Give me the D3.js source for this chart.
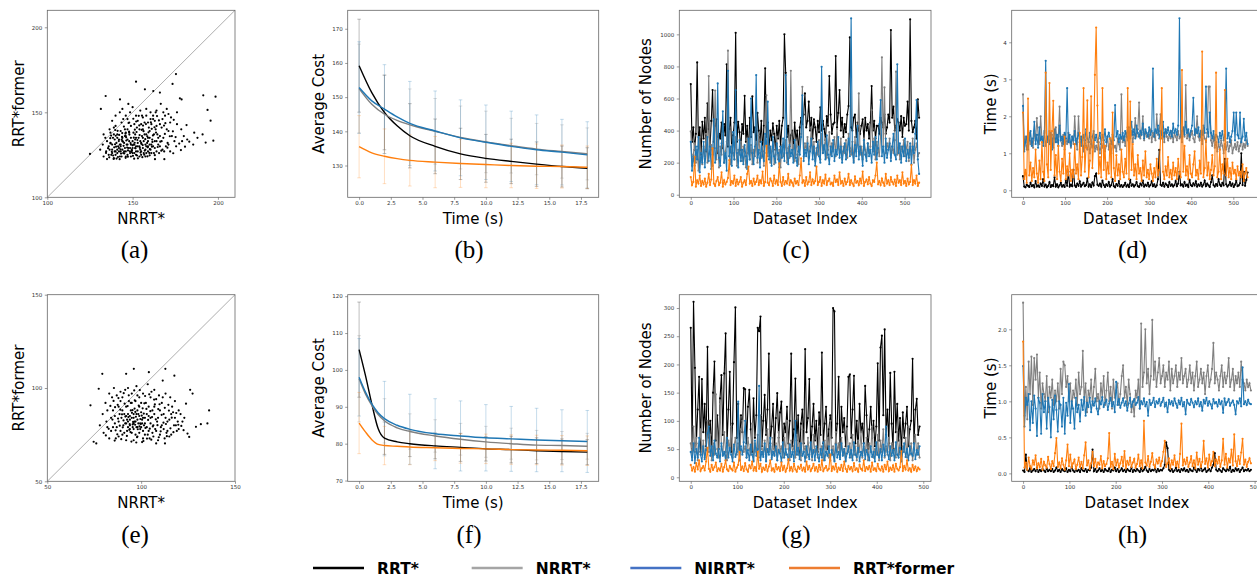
<!DOCTYPE html>
<meta charset="utf-8">
<style>
    body {
        margin: 0;
        background: #fff;
    }

    svg {
        display: block;
    }

    text {
        font-family: "DejaVu Sans", sans-serif;
    }

    .frame {
        fill: none;
        stroke: #666;
        stroke-width: 0.8;
    }

    .tick line {
        stroke: #555;
        stroke-width: 0.6;
    }

    .tick text {
        fill: #333;
    }

    .cap {
        font-family: "Liberation Serif", serif;
        font-size: 25px;
    }
</style>

<body>
    <svg width="1257" height="577"></svg>
    <script src="https://d3js.org/d3.v7.min.js"></script>
    <script>
        // series names and colours
        var seriesNames = ["RRT*", "NRRT*", "NIRRT*", "RRT*former"];
        var plotColors = ["#000000", "#808080", "#1f77b4", "#ff7f0e"];
        var legendColors = ["#000000", "#a5a5a5", "#4472c4", "#ed7d31"];

        // (a) NRRT* vs RRT*former path cost, top dataset
        var scatterTop = [[125,125.5],[134.2,159.6],[131.4,152],[152,168],[157.2,163.5],[175.4,172.5],[173.4,166.7],[191.4,160],[198.6,159.2],[193.9,151.4],[195.7,145.1],[197.3,133.3],[192.8,132.2],[191,137],[186.1,138],[183.2,132.7],[180.7,129.8],[178.3,127.8],[181.6,142.5],[178.7,157.6],[177.7,158.2],[166,161.6],[162.1,162.5],[142.6,157.6],[147.5,154.9],[168.6,122.4],[163.1,122.4],[173.8,125.9],
            [133,124],[134.5,127],[135,122.5],[136,130],[137.5,125],[138,128],[139,123],[140.5,132],[141,126],[142,129],[143.5,124],[144,135],[145,127],[146.5,131],[147,125],[148,138],[149.5,128],[150,133],[151,126],[152.5,141],[153,130],[154,124],[155.5,136],[156,129],[157,144],[158.5,132],[159,127],[160,139],[161.5,134],[162,146],[163,129],[164.5,137],[165,131],[166,143],[167.5,128],[168,135],[169,148],[170.5,132],[171,139],[172,144],
            [135,133],[136.5,128],[137,138],[138,126],[139.5,134],[140,127],[141,137],[142.5,124],[143,131],[144,128],[145.5,140],[146,124],[147,134],[148.5,129],[149,142],[150,126],[151.5,137],[152,130],[153,145],[154.5,133],[155,127],[156,140],[157.5,131],[158,148],[159,135],[160.5,128],[161,143],[162,130],[163.5,150],[164,127],
            [138,131],[139,137],[140,125],[141.5,130],[142,134],[143,139],[144.5,126],[145,132],[146,136],[147.5,129],[148,133],[149,124],[150.5,138],[151,131],[152,127],[153.5,135],[154,140],[155,125],[156.5,133],[157,137],[158,126],[159.5,141],[160,131],[161,126],[162.5,137],[163,133],[164,142],[165.5,126],[166,136],[167,141],
            [141,128],[142.5,131],[143,127],[144,133],[145.5,129],[146,138],[147,131],[148.5,126],[149,135],[150,129],[151.5,134],[152,125],[153,132],[154.5,128],[155,143],[156,135],[157.5,124],[158,137],[159,130],[160.5,146],
            [136,125],[138.5,135],[140,142],[142,127],[144.5,146],[146,127],[148,144],[150.5,131],[152,135],[154,130],[156.5,126],[158,130],[160,135],[162.5,126],[164,133],[166,130],[168.5,127],[170,140],[172,127],[174.5,133],
            [137,132],[139.5,127],[141,135],[143,130],[145.5,136],[147,140],[149,131],[151.5,129],[153,127],[155,132],[157.5,128],[159,133],[161,131],[163.5,140],[165,135],[167,133],[169.5,130],[171,131],[173,136],[175.5,130],
            [134,135],[136.5,140],[138,145],[140,148],[142.5,150],[144,152],[146,148],[148.5,150],[150,153],[152,148],[154.5,151],[156,147],[158,152],[160.5,150],[162,148],[164,151],[166.5,155],[168,150],[170,152],[172.5,147],
            [131,128],[132.5,131],[133,137],[139,141],[143.5,144],[147,146],[151,143],[155.5,148],[159,144],[163,145],[167.5,146],[171,149],[176,143],[178.5,140],[180,136],[182,134],[185.5,131],[188,135],[176,150],[179,133],
            [136.3,123.5],[137.8,126.8],[139.2,129.4],[140.6,122.8],[141.9,133.1],[143.2,125.7],[144.7,130.3],[145.9,123.2],[147.3,127.6],[148.8,131.9],[150.2,124.4],[151.7,128.8],[153.1,122.9],[154.6,126.3],[155.9,130.7],[157.4,134.2],[158.7,124.1],[160.1,128.3],[161.6,132.6],[163,124.8],
            [135.6,128.9],[137.1,131.7],[138.6,124.6],[140.1,136.2],[141.4,123.7],[142.9,128.2],[144.3,132.8],[145.8,137.4],[147.2,123.9],[148.4,127.1],[149.9,130.6],[151.3,139.8],[152.8,133.7],[154.2,129.1],[155.7,123.6],[157.1,127.5],[158.6,135.9],[160,124.7],[161.3,129.8],[162.8,141.2],
            [134.4,126.1],[136.9,134.8],[139.7,131.2],[141.2,139.1],[143.8,135.6],[146.3,133.4],[148.1,136.9],[150.7,135.1],[152.3,138.4],[153.9,142.3],[156.4,138.9],[159.3,138.2],[161.9,136.4],[164.7,129.6],[166.2,132.7],[168.9,137.3],[170.4,129.2],[173.6,138.8],[175.2,135.4],[177.3,131.6],
            [138.9,122.6],[142.4,122.4],[145.1,125.8],[146.8,129.3],[149.3,126.7],[150.9,122.7],[152.6,124.6],[155.2,131.4],[156.8,125.1],[159.8,126.1],[142.1,136.7],[144.9,141.6],[147.6,143.7],[150.4,146.2],[153.6,147.9],[157.8,143.1],[161.2,140.3],[165.4,145.2],[169.2,143.6],[171.8,135.9],
            [140.3,129.8],[143.6,133.9],[146.2,135.3],[149.6,127.4],[151.2,132.1],[154.1,136.6],[156.1,142.2],[158.9,129.4],[163.7,138.1],[166.8,127.4],[137.4,136.3],[139.8,139.6],[143.9,137.8],[147.9,138.6],[152.1,144.6],[155.3,139.7],[160.7,144.1],[164.3,147.8],[168.4,142.2],[174.1,145.6]];

        // (e) NRRT* vs RRT*former path cost, bottom dataset
        var scatterBottom = [[73,90.7],[77.4,99.6],[79.3,107.6],[96.1,110.3],[92,107.6],[104.1,108.5],[112.9,110.3],[117.7,106.6],[111.5,104],[126.1,99],[127.4,97],[136.2,88],[135.3,81],[131.8,80.6],[129.2,79.2],[125.6,73.8],[124.7,75.6],[74.7,71.2],[76.1,70.3],[112.7,70.3],[108,70.3],[122.6,77.4],[123.9,91.6],
            [80,76],[81.5,82],[82,88],[83,73],[84.5,95],[85,79],[86,85],[87.5,91],[88,74],[89,98],[90.5,80],[91,86],[92,72],[93.5,93],[94,78],[95,84],[96.5,89],[97,75],[98,96],[99.5,81],[100,87],[101,73],[102.5,92],[103,79],[104,85],[105.5,98],[106,76],[107,90],[108.5,82],[109,72],[110,88],[111.5,95],[112,78],[113,84],[114.5,91],[115,74],[116,86],[117.5,80],[118,93],[119,77],
            [82,79],[84,84],[86.5,73],[88,90],[90,95],[92.5,77],[94,83],[96,72],[98.5,86],[100,79],[102,84],[104.5,73],[106,88],[108,94],[110.5,79],[112,86],[114,82],[116.5,90],[118,84],[120,88],
            [85,88],[87,79],[89.5,84],[91,76],[93,82],[95.5,79],[97,82],[99,76],[101.5,80],[103,86],[105,81],[107.5,78],[109,84],[111,80],[113.5,76],[115,83],[117,87],[119.5,82],[121,86],[123,84],
            [88,82],[89,77],[90,88],[91.5,81],[92,85],[93,79],[94.5,88],[95,76],[96,81],[97.5,86],[98,79],[99,90],[100.5,83],[101,77],[102,81],[103.5,75],[104,90],[105,84],[106.5,80],[107,86],
            [78,80],[79.5,86],[81,92],[83,97],[85.5,100],[87,96],[89,93],[91.5,99],[93,100],[95,97],[97.5,101],[99,95],[101,97],[103.5,102],[105,95],[107,99],[109.5,96],[111,92],[113,97],[115.5,95],
            [84,77],[86,81],[88.5,86],[90,75],[92,81],[94.5,92],[96,84],[98,74],[100.5,71],[102,75],[104,77],[106.5,74],[108,77],[110,75],[112.5,73],[114,77],[116,75],[118.5,80],[120,78],[122,82],
            [92,90],[93,86],[94,80],[95,92],[96,78],[97,93],[98,83],[99,85],[100,92],[101,84],[95.5,80.5],[96.5,82],[97.5,79],[98.5,81],[99.5,78],[100.5,81],[96,86],[98,88],[94,85],[92.5,83],
            [86.4,77.3],[87.7,83.6],[88.9,88.4],[90.2,78.9],[91.6,84.7],[92.8,90.3],[94.3,76.4],[95.7,81.8],[96.9,87.2],[98.2,77.9],[99.6,83.4],[100.8,89.1],[102.3,78.6],[103.7,82.9],[104.9,87.6],[106.2,79.4],[107.8,83.2],[109.1,88.7],[110.4,76.8],[111.9,81.4],
            [84.7,83.1],[86.1,89.7],[87.3,75.2],[88.6,79.8],[89.8,85.9],[91.2,91.6],[92.4,74.3],[93.9,80.6],[95.1,86.7],[96.6,93.4],[97.8,73.6],[99.1,79.4],[100.3,85.2],[101.7,91.8],[103.1,72.9],[104.6,78.2],[105.8,84.4],[107.3,91.2],[108.7,80.1],[110.9,85.6],
            [83.6,90.4],[85.3,93.1],[87.9,94.6],[90.7,97.2],[93.4,96.1],[96.3,98.7],[99.3,98.9],[102.1,95.7],[104.3,96.6],[106.9,93.8],[109.8,91.3],[112.6,89.4],[114.8,87.9],[116.3,84.1],[118.7,86.6],[113.2,80.7],[115.6,78.4],[117.2,76.3],[119.8,80.3],[121.4,79.7],
            [81.2,74.6],[82.7,78.1],[85.9,71.8],[89.4,72.6],[94.8,71.3],[97.4,70.8],[101.2,71.6],[105.4,72.3],[109.4,73.6],[113.7,74.2],[90.6,82.6],[93.2,84.4],[95.4,88.1],[97.2,84.6],[98.7,90.6],[101.4,86.3],[102.8,88.8],[93.7,77.6],[96.8,80.3],[99.8,80.7]];

        // (b) average cost over time, top dataset
        var timeTop = [0, 1, 2, 3, 4, 6, 8, 10, 12, 14, 16, 18];
        var costTopRrt = [159.2, 151.3, 145.5, 141.6, 138.7, 135.6, 133.4, 132.1, 131.2, 130.4, 129.7, 129.2];
        var costTopNrrt = [152.5, 147.9, 145.0, 143.2, 141.9, 140.0, 138.2, 136.9, 135.8, 134.8, 134.1, 133.4];
        var costTopNirrt = [152.8, 148.9, 146.5, 144.2, 142.3, 140.1, 138.1, 136.8, 135.6, 134.6, 133.9, 133.1];
        var costTopFormer = [135.5, 133.7, 132.7, 132.0, 131.5, 131.0, 130.6, 130.3, 130.0, 129.8, 129.7, 129.5];

        // error bar times and standard deviations
        var errTimes = [0, 2, 4, 6, 8, 10, 12, 14, 16, 18];
        var stdTopRrt = [13.6, 10.9, 9.4, 8.0, 7.5, 7.0, 6.5, 6.5, 6.0, 6.0];
        var stdTopNrrt = [13.0, 11.5, 10.5, 9.6, 9.2, 9.0, 8.0, 7.5, 7.8, 7.6];
        var stdTopNirrt = [13.4, 13.0, 12.3, 11.7, 11.1, 10.9, 10.3, 10.2, 9.6, 9.7];
        var stdTopFormer = [9.1, 8.0, 7.5, 7.5, 7.0, 6.8, 6.5, 6.5, 6.3, 6.2];

        // (f) average cost over time, bottom dataset
        var timeBottom = [0, 0.5, 1, 1.5, 2, 3, 4, 6, 8, 10, 12, 14, 16, 18];
        var costBotRrt = [105.5, 98.5, 90.8, 84.1, 81.5, 80.5, 80.0, 79.4, 79.0, 78.6, 78.4, 78.1, 77.9, 77.7];
        var costBotNrrt = [97.6, 93.5, 90.4, 87.9, 86.2, 84.3, 83.3, 82.1, 81.2, 80.5, 80.0, 79.6, 79.5, 79.3];
        var costBotNirrt = [98.0, 94.0, 90.8, 88.4, 86.8, 85.0, 83.9, 82.7, 82.1, 81.6, 81.3, 81.0, 80.8, 80.6];
        var costBotFormer = [85.6, 83.2, 81.1, 79.8, 79.5, 79.3, 79.1, 78.9, 78.7, 78.6, 78.4, 78.3, 78.2, 78.1];
        var stdBotRrt = [12.9, 4.4, 3.5, 3.5, 3.8, 3.3, 3.6, 3.5, 3.4, 3.4];
        var stdBotNrrt = [11.7, 6.0, 4.8, 4.4, 4.3, 4.2, 4.2, 4.0, 3.8, 3.5];
        var stdBotNirrt = [10.5, 10.1, 9.5, 9.5, 9.5, 9.0, 8.8, 8.6, 8.4, 8.4];
        var stdBotFormer = [8.3, 5.2, 4.8, 3.5, 4.0, 4.0, 4.0, 4.0, 4.0, 4.0];

        // (c) number of nodes per dataset index, top dataset (every 3rd index)
        var nodesTopRrt = [690,330,420,280,380,825,300,420,250,455,350,480,270,570,410,300,460,653,330,430,
            470,260,380,350,450,290,440,370,813,300,410,480,260,370,450,1010,330,455,390,280,
            440,380,617,330,430,260,480,360,613,390,420,310,510,400,330,460,270,430,788,360,
            450,290,400,340,445,380,280,430,350,460,300,430,480,1000,760,360,430,300,370,400,
            290,450,340,400,270,420,480,440,500,632,420,460,580,400,480,350,470,420,330,460,
            390,545,400,460,410,340,490,430,740,500,380,440,450,865,420,510,653,400,480,360,
            440,390,500,553,981,420,400,480,500,360,450,400,380,430,470,340,480,400,440,350,
            450,678,400,460,350,430,430,380,480,450,420,500,380,420,500,450,1027,480,549,400,
            430,470,450,400,490,360,480,430,440,580,400,1094,460,390,420,460,350,595,480];
        var nodesTopNrrt = [395,180,250,320,200,280,150,360,230,190,300,240,380,200,740,260,310,180,290,650,
            220,350,170,300,250,380,200,270,330,898,240,190,310,260,220,360,180,280,250,330,
            210,300,240,170,350,260,220,310,190,280,240,330,200,370,260,230,300,180,420,620,
            240,300,200,270,330,190,250,360,220,280,170,310,240,260,340,200,290,230,773,260,
            310,210,340,250,190,300,380,673,240,320,280,360,230,300,420,260,330,210,290,250,
            340,220,380,260,300,350,230,280,390,250,320,270,360,240,410,300,260,350,220,300,
            260,340,230,380,290,250,330,210,360,270,310,632,250,300,220,350,280,240,320,260,
            300,528,270,350,220,330,280,240,370,857,300,669,260,320,280,350,230,300,260,340,
            767,250,310,220,300,270,340,240,290,330,210,300,250,350,200,280,320,240,260];
        var nodesTopNirrt = [330,150,240,180,300,220,360,140,260,200,330,170,280,360,210,300,160,250,470,200,
            290,694,230,180,320,520,200,260,150,773,240,300,180,390,220,653,260,170,340,210,
            280,190,310,240,160,350,220,600,260,190,300,746,230,280,170,330,240,210,380,260,
            580,220,300,180,360,240,200,320,260,170,300,230,350,210,746,260,190,310,240,280,
            200,340,230,180,300,250,360,620,210,280,240,320,190,270,350,220,300,180,260,330,
            240,200,798,260,310,220,370,250,190,300,240,340,210,280,250,360,230,300,200,270,
            320,220,280,350,240,1100,260,200,310,240,430,220,300,260,180,340,250,210,320,240,
            280,200,330,250,360,220,290,440,590,240,300,200,350,230,280,320,210,300,380,250,
            220,813,260,320,200,300,240,350,210,280,230,320,190,300,260,380,590,220,130];
        var nodesTopFormer = [110,60,80,237,50,90,70,120,55,85,65,100,50,75,130,60,95,289,70,55,
            85,110,60,75,140,50,90,65,80,105,216,60,85,70,120,55,95,65,80,110,
            50,75,90,60,130,175,70,85,55,100,65,80,120,60,90,70,145,55,80,305,
            75,60,100,85,55,120,70,90,60,195,80,55,110,65,85,70,130,60,90,75,
            55,100,70,85,60,120,227,75,90,55,110,65,80,140,60,95,70,85,175,60,
            80,110,55,90,70,125,60,85,100,65,75,55,120,80,95,60,140,70,85,55,
            100,65,80,130,60,90,70,55,115,75,85,60,100,70,145,55,80,95,65,110,
            70,55,90,80,120,200,65,85,60,100,75,55,130,70,90,60,110,80,65,95,
            55,120,75,90,60,140,70,85,55,100,65,80,185,60,90,70,120,55,75];

        // (d) planning time per dataset index, top dataset (every 3rd index)
        var timeTopRrt = [0.38,0.10,0.08,0.15,0.12,0.09,0.20,0.11,0.14,0.08,0.25,0.10,0.13,0.09,0.18,0.12,0.30,0.10,0.15,0.08,
            0.12,0.22,0.09,0.14,0.11,0.35,0.10,0.16,0.08,0.13,0.20,0.10,0.14,0.09,0.28,0.12,0.50,0.10,0.15,0.11,
            0.55,0.13,0.09,0.18,0.12,0.24,0.10,0.15,0.20,0.11,0.14,0.32,0.10,0.16,0.09,0.21,0.13,0.38,0.45,0.15,
            0.12,0.18,0.10,0.26,0.14,0.09,0.16,0.12,0.22,0.10,0.14,0.30,0.11,0.08,0.17,0.12,0.25,0.10,0.14,0.09,
            0.13,0.20,0.10,0.15,0.09,0.28,0.12,0.16,0.10,0.14,0.22,0.11,0.09,0.18,0.13,0.26,0.10,0.15,0.12,0.20,
            0.10,0.14,0.24,0.11,0.16,0.09,0.13,0.30,1.09,0.15,0.12,0.20,0.10,0.18,0.14,0.09,0.22,0.12,0.16,0.10,
            0.14,0.25,0.11,0.18,0.50,0.13,0.16,0.10,0.22,0.12,0.15,0.09,0.28,0.14,0.11,0.19,0.13,0.24,0.10,0.16,
            0.12,0.20,0.10,0.15,0.26,0.11,0.18,0.13,0.09,0.22,0.40,0.14,0.10,0.17,0.12,0.30,0.15,0.11,0.20,0.13,
            0.85,0.16,0.10,0.14,0.22,0.12,0.18,0.09,0.15,0.26,0.11,0.13,0.19,1.00,0.14,0.50,0.12,0.28,0.48];
        var timeTopNrrt = [2.59,1.20,1.45,1.10,1.30,1.55,1.25,1.40,1.15,1.60,1.35,1.95,1.50,1.25,2.00,1.40,1.30,1.55,1.20,1.45,
            1.35,1.60,1.25,1.50,1.15,1.40,1.70,1.30,1.45,2.26,1.35,1.20,1.50,1.10,1.40,1.25,1.55,1.30,1.15,1.45,
            1.25,2.00,1.35,1.10,2.00,1.30,1.20,1.45,1.05,1.35,1.20,1.10,1.30,1.00,1.25,1.15,1.40,1.05,1.20,1.10,
            1.30,1.00,1.25,1.15,1.35,1.05,1.20,1.45,1.10,1.25,1.00,1.35,1.15,1.20,1.05,1.40,1.25,1.10,2.59,1.30,
            1.45,1.20,1.55,1.35,1.70,1.40,1.60,1.30,1.50,1.95,1.45,1.65,2.37,1.40,1.55,2.00,1.35,1.60,1.45,1.50,
            1.40,1.65,1.30,1.55,1.45,1.35,2.05,1.50,1.60,2.05,1.40,1.55,1.30,1.65,1.45,1.35,1.50,1.40,1.60,1.30,
            1.55,1.45,1.35,1.60,1.40,1.50,1.30,1.65,1.45,2.84,1.40,1.55,1.35,1.50,1.60,1.40,1.30,1.55,2.00,1.45,
            1.35,1.50,1.25,1.60,1.40,1.30,1.55,2.80,2.80,1.35,1.20,1.45,1.15,1.30,1.05,1.25,1.10,1.35,1.20,1.00,
            1.25,1.10,1.30,1.05,1.20,1.35,1.00,1.15,1.25,1.10,1.30,1.05,1.20,1.40,1.10,1.25,1.15,1.35,1.20];
        var timeTopNirrt = [2.28,1.05,1.30,1.45,1.10,1.35,1.60,1.20,1.40,1.85,1.25,1.50,1.15,1.70,1.35,1.45,1.20,1.60,3.50,1.30,
            1.45,1.25,1.55,1.10,1.40,1.65,1.30,1.50,1.20,1.75,1.35,1.45,1.25,1.55,1.40,2.76,1.30,1.50,1.20,1.45,
            1.35,1.60,1.25,1.40,1.55,1.30,1.45,1.20,1.50,1.35,1.65,1.40,1.30,1.55,1.25,1.45,1.60,1.35,1.50,1.30,
            1.40,1.55,1.25,1.50,1.35,1.65,1.30,1.45,1.55,1.40,1.25,1.50,1.35,2.30,1.45,1.60,1.30,1.50,1.40,1.55,
            1.35,1.60,1.45,1.70,1.40,1.55,1.85,1.50,1.65,1.40,1.75,1.55,1.45,1.60,1.50,1.80,1.40,1.65,1.55,1.45,
            1.70,1.50,1.60,3.29,1.45,1.65,1.55,1.75,1.40,1.60,1.50,1.85,1.45,1.65,1.55,1.70,1.50,1.60,1.45,1.80,
            1.55,1.65,1.50,1.75,4.65,1.45,1.60,1.70,1.50,1.85,1.55,1.65,1.45,1.60,1.75,2.50,1.50,1.65,1.55,1.70,
            1.45,1.60,1.50,1.75,1.55,2.80,1.65,1.45,2.10,1.55,1.40,1.60,1.35,1.50,1.45,1.30,1.55,1.40,1.60,1.35,
            1.50,3.29,1.40,1.55,1.30,1.45,1.60,2.10,1.35,2.10,1.50,1.40,2.10,1.30,1.45,1.93,1.35,1.55,1.25];
        var timeTopFormer = [2.10,0.30,0.55,0.20,2.48,0.40,0.75,0.25,0.60,0.35,1.10,0.45,0.20,0.80,0.30,1.30,0.50,0.25,3.18,0.70,
            0.35,2.90,0.55,1.60,2.42,0.40,0.95,0.30,1.20,0.50,0.25,0.85,0.45,1.45,0.30,0.65,0.40,1.00,0.25,0.55,
            0.35,1.25,0.45,0.70,0.30,1.55,0.40,0.90,2.76,0.50,1.15,2.43,0.35,0.80,2.54,0.60,1.30,3.12,4.40,2.29,
            0.45,0.90,0.35,2.76,0.55,1.20,0.30,0.75,0.45,1.40,0.35,2.10,0.60,0.25,0.95,0.40,0.70,0.30,1.10,0.50,
            0.35,0.85,0.45,2.76,0.30,2.40,0.55,1.25,0.40,0.70,0.30,0.95,0.45,0.60,0.25,0.80,0.40,1.05,0.35,0.55,
            0.30,0.70,0.45,0.25,0.60,0.35,0.85,0.40,0.55,1.40,2.76,0.50,0.30,0.65,0.40,0.90,0.35,0.55,0.30,0.75,
            0.40,0.60,0.30,0.85,0.45,0.35,3.25,0.50,1.20,0.40,0.65,0.30,0.95,0.45,0.35,0.70,1.05,0.40,0.55,0.30,
            0.80,0.45,3.75,0.35,0.60,1.35,0.40,0.75,0.30,0.55,0.95,0.40,0.65,3.18,0.35,0.50,1.10,0.30,0.70,0.45,
            2.71,0.40,0.85,0.35,0.60,0.30,0.75,0.45,0.55,0.30,0.65,0.40,0.50,0.35,0.70,0.25,0.45,0.60,0.35];

        // (g) number of nodes per dataset index, bottom dataset (every 3rd index)
        var nodesBotRrt = [265,50,311,194,60,120,178,45,174,80,130,55,231,70,100,40,150,205,65,110,
            50,140,181,75,184,255,60,120,187,45,95,204,301,70,130,50,110,80,158,156,
            60,125,155,85,45,140,70,110,265,259,285,55,100,146,75,120,219,60,90,130,
            50,105,149,70,115,134,45,95,80,125,60,100,219,55,85,175,65,110,40,95,
            120,60,227,80,105,174,50,90,130,65,100,45,115,75,221,60,95,125,50,85,
            110,70,300,294,60,95,178,45,125,80,105,55,90,178,182,70,120,180,60,100,
            45,130,80,95,60,162,110,50,85,125,70,100,55,90,202,65,230,251,110,262,
            75,120,60,185,95,50,187,80,130,65,105,45,115,70,95,125,55,85,100,210,
            60,120,139,75,90];
        var nodesBotNrrt = [60,35,90,45,70,30,55,85,40,65,35,50,100,45,75,30,60,40,147,50,
            35,130,55,40,80,45,30,65,50,90,35,55,70,40,60,30,85,100,45,55,
            35,70,50,40,95,30,60,45,75,35,110,50,40,65,30,85,45,55,35,70,
            40,60,30,80,45,55,35,70,40,100,50,30,65,45,55,35,75,40,60,30,
            85,45,55,35,70,40,60,30,75,45,50,35,90,40,55,30,65,45,70,35,
            100,40,55,30,80,45,60,35,70,40,50,30,85,45,60,35,75,40,55,30,
            65,45,80,35,55,40,70,30,60,45,90,35,50,40,75,30,65,45,85,35,
            55,40,70,30,60,45,50,35,80,40,65,30,55,45,70,35,90,40,60,30,
            50,75,40,60,35];
        var nodesBotNirrt = [45,30,60,25,50,35,70,40,28,55,32,48,78,90,38,55,30,65,42,35,
            50,28,60,38,45,30,70,35,52,40,28,58,36,45,134,30,55,40,62,100,
            35,48,30,58,40,28,65,38,50,162,30,45,36,60,28,50,40,70,32,45,
            38,55,30,48,42,28,62,35,50,40,30,58,36,45,28,100,40,52,32,60,
            38,45,28,55,40,32,62,36,48,30,55,40,28,50,35,62,30,45,38,55,
            30,48,40,28,58,35,45,32,60,38,50,28,42,55,35,48,30,62,40,36,
            52,28,45,38,60,32,48,40,30,55,36,45,28,62,40,35,50,30,58,38,
            90,45,32,55,38,48,30,62,40,35,52,28,45,60,36,50,30,55,42,38,
            60,32,48,40,55];
        var nodesBotFormer = [22,12,18,10,25,14,30,11,16,20,12,28,52,15,10,22,13,18,26,11,
            16,12,24,10,18,30,14,11,20,15,12,26,10,17,22,45,13,19,11,25,
            14,10,21,16,28,12,18,11,45,15,24,10,17,13,22,11,19,30,12,16,
            10,23,14,18,11,26,13,20,10,16,32,12,18,11,24,14,10,19,15,22,
            12,17,10,28,14,20,11,16,24,12,18,10,22,13,30,11,16,20,12,15,
            40,11,19,14,24,10,17,13,22,11,28,15,10,20,14,18,11,25,13,16,
            10,22,15,12,30,11,18,14,20,10,26,13,16,11,24,15,12,19,10,22,
            14,28,11,17,13,21,10,24,15,12,18,46,11,20,14,30,12,16,10,22,
            13,19,11,17,14];

        // (h) planning time per dataset index, bottom dataset (every 3rd index)
        var timeBotRrt = [0.04,0.02,0.26,0.05,0.03,0.07,0.02,0.04,0.06,0.03,0.08,0.02,0.05,0.03,0.06,0.04,0.02,0.07,0.03,0.05,
            0.03,0.06,0.02,0.04,0.08,0.03,0.05,0.02,0.06,0.04,0.03,0.07,0.02,0.05,0.03,0.09,0.04,0.02,0.06,0.03,
            0.05,0.02,0.07,0.04,0.03,0.06,0.02,0.05,0.04,0.08,0.33,0.03,0.06,0.02,0.04,0.07,0.03,0.05,0.02,0.06,
            0.04,0.03,0.07,0.02,0.05,0.04,0.08,0.03,0.06,0.02,0.04,0.07,0.03,0.05,0.02,0.06,0.04,0.03,0.08,0.02,
            0.05,0.03,0.06,0.04,0.02,0.07,0.03,0.05,0.09,0.04,0.02,0.06,0.03,0.05,0.04,0.08,0.02,0.06,0.03,0.05,
            0.04,0.07,0.12,0.43,0.35,0.05,0.03,0.06,0.02,0.04,0.08,0.03,0.05,0.02,0.06,0.04,0.07,0.03,0.05,0.02,
            0.06,0.04,0.03,0.08,0.05,0.02,0.06,0.04,0.10,0.03,0.05,0.07,0.02,0.04,0.06,0.03,0.08,0.12,0.28,0.05,
            0.03,0.06,0.04,0.02,0.07,0.05,0.03,0.06,0.04,0.09,0.02,0.05,0.03,0.07,0.04,0.06,0.02,0.05,0.08,0.03,
            0.05,0.04,0.06,0.03,0.05];
        var timeBotNrrt = [2.37,0.80,1.20,0.75,1.55,1.10,1.62,0.95,1.60,1.30,1.65,1.05,1.40,0.90,1.25,1.10,1.00,1.35,0.85,1.20,
            1.05,1.30,0.95,1.15,1.00,1.25,0.90,1.45,1.10,1.55,1.50,1.20,1.35,1.00,1.25,0.90,1.15,1.05,1.30,0.95,
            1.40,1.10,1.20,1.70,1.00,1.25,0.85,1.15,1.05,1.30,0.95,1.20,1.45,1.00,1.10,0.90,1.25,1.05,1.35,0.95,
            1.15,1.40,1.00,1.20,0.90,1.30,1.05,1.15,1.25,0.95,1.10,1.35,1.50,1.05,1.20,0.95,1.30,1.10,0.85,1.00,
            0.79,1.15,1.05,1.30,0.90,2.08,1.20,1.40,2.00,1.25,1.45,1.10,1.35,2.13,1.30,1.55,1.20,1.40,1.60,1.25,
            1.35,1.50,1.20,1.40,1.30,1.55,1.15,1.45,1.25,1.35,1.50,1.20,1.40,1.30,1.60,1.25,1.35,1.45,1.20,1.30,
            1.50,1.25,1.40,1.15,1.35,1.55,1.20,1.30,1.45,1.25,1.40,1.10,1.35,1.50,1.20,1.30,1.45,1.81,1.25,1.40,
            1.30,1.15,1.35,1.50,1.20,1.40,1.25,1.35,1.60,1.20,1.30,1.45,1.15,1.35,1.25,1.40,1.20,1.55,1.30,1.25,
            1.15,1.30,1.20,1.25,1.15];
        var timeBotNirrt = [1.49,0.65,1.05,0.95,1.10,0.60,1.00,0.70,1.08,0.90,0.52,1.05,0.98,0.55,1.10,0.85,1.00,0.62,1.05,0.92,
            0.50,1.02,0.75,1.08,0.88,0.58,1.00,0.95,0.65,1.05,0.55,0.98,0.80,1.24,0.70,1.00,0.90,0.62,1.05,0.85,
            0.95,0.72,1.02,0.88,1.06,0.80,0.98,0.92,1.05,0.85,1.00,0.94,1.04,0.90,0.82,1.00,0.96,1.06,0.92,0.98,
            1.02,0.88,0.97,1.05,0.93,0.99,0.85,1.27,0.95,1.03,0.91,0.98,1.04,0.94,1.00,0.87,0.97,1.05,0.92,0.99,
            1.03,0.95,0.98,1.06,0.90,1.00,0.96,1.04,0.93,0.99,0.80,1.02,0.95,0.98,1.05,0.92,1.00,0.97,1.03,0.94,
            0.99,1.05,0.93,0.98,0.85,1.02,0.96,1.00,0.94,1.04,0.97,0.91,1.01,0.96,1.05,0.93,0.99,0.82,1.02,0.97,
            0.95,1.03,0.98,0.92,1.00,0.96,1.04,0.93,0.99,0.87,1.02,0.97,1.05,0.94,1.00,0.96,0.90,1.03,0.97,0.99,
            0.93,1.02,0.96,1.00,0.84,1.04,0.95,0.99,1.03,0.94,0.98,1.01,0.95,0.82,1.00,0.97,1.04,0.93,1.47,0.96,
            1.00,0.95,1.02,0.97,0.96];
        var timeBotFormer = [1.83,0.08,0.15,0.05,0.22,0.10,0.06,0.18,0.12,0.25,0.07,0.14,0.09,0.20,0.05,0.16,0.11,0.08,0.23,0.13,
            0.06,0.17,0.10,0.28,0.49,0.09,0.15,0.07,0.21,0.12,0.05,0.18,0.40,0.10,0.26,0.08,0.14,0.19,0.06,0.12,
            0.22,0.09,0.16,0.07,0.25,0.43,0.11,0.18,0.06,0.14,0.30,0.10,0.20,0.08,0.15,0.12,0.24,0.07,0.17,0.10,
            0.13,0.21,0.56,0.09,0.16,0.06,0.27,0.11,0.19,0.08,0.14,0.23,0.10,0.31,0.07,0.17,0.12,0.22,0.09,0.15,
            0.20,0.08,0.13,0.26,0.10,0.18,0.07,0.73,0.15,0.11,0.24,0.09,0.16,0.28,0.12,0.08,0.19,0.14,0.22,0.10,
            0.17,0.30,0.45,0.09,0.14,0.21,0.07,0.18,0.12,0.25,0.10,0.16,0.08,0.27,0.69,0.11,0.19,0.13,0.22,0.09,
            0.15,0.24,0.10,0.18,0.07,0.29,0.12,0.20,0.09,0.16,0.45,0.13,0.21,0.08,0.26,0.11,0.17,0.30,0.10,0.19,
            0.14,0.23,0.09,0.18,0.48,0.12,0.27,0.08,0.20,0.15,0.33,0.11,0.54,0.17,0.10,0.24,0.13,0.29,0.48,0.12,
            0.19,0.09,0.16,0.21,0.14];

        var svg = d3.select("svg");
        svg.append("rect").attr("width", 1257).attr("height", 577).attr("fill", "#fff");

        var rowTop = [10.3, 294.7];
        var rowBottom = [197.3, 481.3];
        var fmtInt = d3.format("d");
        var fmt1 = d3.format(".1f");

        function tidyAxis(sel) {
            sel.attr("font-size", 5.5).attr("font-family", "DejaVu Sans");
            sel.select(".domain").remove();
        }

        function makePanel(p) {
            var y0 = rowTop[p.row], y1 = rowBottom[p.row];
            var g = svg.append("g");
            var x = d3.scaleLinear().domain(p.xd).range([p.x0, p.x1]);
            var y = d3.scaleLinear().domain(p.yd).range([y1, y0]);

            g.append("g")
                .attr("transform", "translate(0," + y1 + ")")
                .call(d3.axisBottom(x).tickValues(p.xt).tickFormat(p.xf || fmtInt).tickSize(2.5).tickPadding(1))
                .call(tidyAxis);
            g.append("g")
                .attr("transform", "translate(" + p.x0 + ",0)")
                .call(d3.axisLeft(y).tickValues(p.yt).tickFormat(p.yf || fmtInt).tickSize(2.5).tickPadding(2.5))
                .call(tidyAxis);

            var plot = g.append("g");

            g.append("rect")
                .attr("class", "frame")
                .attr("x", p.x0).attr("y", y0)
                .attr("width", p.x1 - p.x0).attr("height", y1 - y0);

            g.append("text")
                .attr("x", (p.x0 + p.x1) / 2).attr("y", y1 + 26.8)
                .attr("text-anchor", "middle").attr("font-size", 15)
                .text(p.xLabel);
            g.append("text")
                .attr("transform", "translate(" + p.yLabelX + "," + (y0 + y1) / 2 + ") rotate(-90)")
                .attr("text-anchor", "middle").attr("dominant-baseline", "central").attr("font-size", 15)
                .text(p.yLabel);
            g.append("text")
                .attr("class", "cap")
                .attr("x", p.capX).attr("y", p.row === 0 ? 258 : 543)
                .attr("text-anchor", "middle")
                .text(p.cap);

            return { plot: plot, x: x, y: y };
        }

        function drawScatter(P, pts, lo, hi) {
            P.plot.append("line")
                .attr("x1", P.x(lo)).attr("y1", P.y(lo))
                .attr("x2", P.x(hi)).attr("y2", P.y(hi))
                .attr("stroke", "#999").attr("stroke-width", 0.8);
            P.plot.append("g").selectAll("circle")
                .data(pts)
                .enter().append("circle")
                .attr("cx", function(d) { return P.x(d[0]); })
                .attr("cy", function(d) { return P.y(d[1]); })
                .attr("r", 1.1)
                .attr("fill", "#000");
        }

        function drawCost(P, times, means, stds) {
            // error bars first, curves on top
            means.forEach(function(m, k) {
                var bars = errTimes.map(function(t, i) {
                    var v = m[times.indexOf(t)];
                    return { t: t, lo: v - stds[k][i], hi: v + stds[k][i] };
                });
                var eg = P.plot.append("g")
                    .attr("stroke", plotColors[k])
                    .attr("stroke-opacity", 0.25)
                    .attr("stroke-width", 1);
                bars.forEach(function(b) {
                    var cx = P.x(b.t);
                    eg.append("line").attr("x1", cx).attr("x2", cx).attr("y1", P.y(b.lo)).attr("y2", P.y(b.hi));
                    eg.append("line").attr("x1", cx - 1.8).attr("x2", cx + 1.8).attr("y1", P.y(b.lo)).attr("y2", P.y(b.lo));
                    eg.append("line").attr("x1", cx - 1.8).attr("x2", cx + 1.8).attr("y1", P.y(b.hi)).attr("y2", P.y(b.hi));
                });
            });
            var line = d3.line()
                .curve(d3.curveMonotoneX)
                .x(function(d) { return P.x(d[0]); })
                .y(function(d) { return P.y(d[1]); });
            means.forEach(function(m, k) {
                P.plot.append("path")
                    .datum(d3.zip(times, m))
                    .attr("fill", "none")
                    .attr("stroke", plotColors[k])
                    .attr("stroke-width", 1.4)
                    .attr("d", line);
            });
        }

        function drawIndex(P, list, step) {
            var line = d3.line()
                .x(function(d) { return P.x(d[0]); })
                .y(function(d) { return P.y(d[1]); });
            list.forEach(function(vals, k) {
                var pts = vals.map(function(v, i) { return [i * step, v]; });
                P.plot.append("path")
                    .datum(pts)
                    .attr("fill", "none")
                    .attr("stroke", plotColors[k])
                    .attr("stroke-width", 1.1)
                    .attr("d", line);
                P.plot.append("g").selectAll("circle")
                    .data(pts)
                    .enter().append("circle")
                    .attr("cx", function(d) { return P.x(d[0]); })
                    .attr("cy", function(d) { return P.y(d[1]); })
                    .attr("r", 1.1)
                    .attr("fill", plotColors[k]);
            });
        }

        // top row
        var pa = makePanel({ row: 0, x0: 47.3, x1: 235, xd: [100, 210], yd: [100, 210], xt: [100, 150, 200], yt: [100, 150, 200],
            xLabel: "NRRT*", yLabel: "RRT*former", yLabelX: 19, cap: "(a)", capX: 134.5 });
        drawScatter(pa, scatterTop, 100, 210);

        var pb = makePanel({ row: 0, x0: 347.7, x1: 598.7, xd: [-0.9, 18.9], yd: [120.7, 175.4], xt: d3.range(0, 18, 2.5), yt: [130, 140, 150, 160, 170],
            xf: fmt1, xLabel: "Time (s)", yLabel: "Average Cost", yLabelX: 318.5, cap: "(b)", capX: 469 });
        drawCost(pb, timeTop, [costTopRrt, costTopNrrt, costTopNirrt, costTopFormer], [stdTopRrt, stdTopNrrt, stdTopNirrt, stdTopFormer]);

        var pc = makePanel({ row: 0, x0: 679.3, x1: 931, xd: [-26.8, 561.8], yd: [-16, 1150], xt: [0, 100, 200, 300, 400, 500], yt: [0, 200, 400, 600, 800, 1000],
            xLabel: "Dataset Index", yLabel: "Number of Nodes", yLabelX: 645.5, cap: "(c)", capX: 796 });
        drawIndex(pc, [nodesTopRrt, nodesTopNrrt, nodesTopNirrt, nodesTopFormer], 3);

        var pd = makePanel({ row: 0, x0: 1011.7, x1: 1259.3, xd: [-26.8, 561.8], yd: [-0.19, 4.865], xt: [0, 100, 200, 300, 400, 500], yt: [0, 1, 2, 3, 4],
            xLabel: "Dataset Index", yLabel: "Time (s)", yLabelX: 990.8, cap: "(d)", capX: 1132.5 });
        drawIndex(pd, [timeTopRrt, timeTopNrrt, timeTopNirrt, timeTopFormer], 3);

        // bottom row
        var pe = makePanel({ row: 1, x0: 47.3, x1: 235, xd: [50, 150], yd: [50, 150], xt: [50, 100, 150], yt: [50, 100, 150],
            xLabel: "NRRT*", yLabel: "RRT*former", yLabelX: 19, cap: "(e)", capX: 135 });
        drawScatter(pe, scatterBottom, 50, 150);

        var pf = makePanel({ row: 1, x0: 347.7, x1: 598.7, xd: [-0.9, 18.9], yd: [69.8, 120.4], xt: d3.range(0, 18, 2.5), yt: [70, 80, 90, 100, 110, 120],
            xf: fmt1, xLabel: "Time (s)", yLabel: "Average Cost", yLabelX: 318.5, cap: "(f)", capX: 469 });
        drawCost(pf, timeBottom, [costBotRrt, costBotNrrt, costBotNirrt, costBotFormer], [stdBotRrt, stdBotNrrt, stdBotNirrt, stdBotFormer]);

        var pg = makePanel({ row: 1, x0: 679.3, x1: 931, xd: [-24.6, 516.6], yd: [-7.1, 323.6], xt: [0, 100, 200, 300, 400, 500], yt: [0, 50, 100, 150, 200, 250, 300],
            xLabel: "Dataset Index", yLabel: "Number of Nodes", yLabelX: 645.5, cap: "(g)", capX: 796 });
        drawIndex(pg, [nodesBotRrt, nodesBotNrrt, nodesBotNirrt, nodesBotFormer], 3);

        var ph = makePanel({ row: 1, x0: 1011.7, x1: 1262.3, xd: [-24.6, 516.6], yd: [-0.11, 2.48], xt: [0, 100, 200, 300, 400, 500], yt: [0, 0.5, 1, 1.5, 2],
            yf: fmt1, xLabel: "Dataset Index", yLabel: "Time (s)", yLabelX: 990.8, cap: "(h)", capX: 1132.5 });
        drawIndex(ph, [timeBotRrt, timeBotNrrt, timeBotNirrt, timeBotFormer], 3);

        // shared legend along the bottom
        var legendX = d3.scalePoint().domain(seriesNames).range([313, 789]);
        var legend = svg.append("g");
        var item = legend.selectAll("g")
            .data(seriesNames)
            .enter().append("g")
            .attr("transform", function(d) { return "translate(" + legendX(d) + ",568)"; });
        item.append("line")
            .attr("x1", 0).attr("x2", 51)
            .attr("stroke", function(d, i) { return legendColors[i]; })
            .attr("stroke-width", 2.6);
        item.append("text")
            .attr("x", 64).attr("y", 5.5)
            .attr("font-size", 15.5)
            .attr("font-weight", "bold")
            .text(function(d) { return d; });
    </script>
</body>
